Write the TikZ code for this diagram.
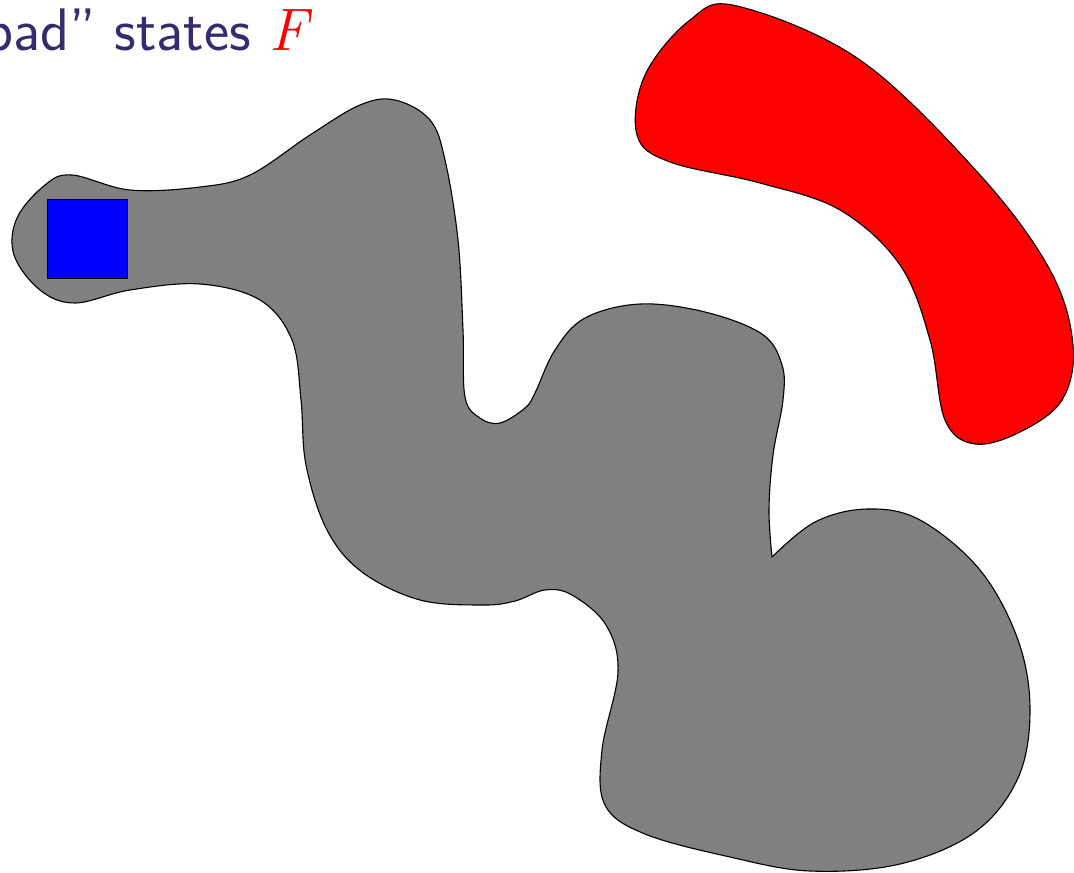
\documentclass[tikz,border=0pt]{standalone}
\usepackage{fontspec}
\definecolor{titlecol}{RGB}{53,43,110}
\begin{document}
\begin{tikzpicture}[x=1pt,y=-1pt,
  region/.style={draw=black,line width=1.1pt,line join=round},
  smoothcurve/.style={smooth,tension=0.6}]
\useasboundingbox (0,0) rectangle (1074,873);
% gray region (safe states)
\path[region,fill=gray] plot[smoothcurve] coordinates {
 (772,557) (815,522) (867,509) (920,520) (980,570) (1018,640) (1030,710)
 (1018,778) (975,832) (900,864) (810,871) (730,857) (645,834) (605,805)
 (602,750) (618,672) (606,625) (572,595) (545,590) (515,601) (483,605)
 (420,600) (362,572) (327,530) (306,465) (301,400) (292,340) (260,300)
 (200,284) (130,290) (75,303) (40,290) (14,255) (17,218) (45,185) (72,175)
 (130,190) (200,187) (250,175) (310,135) (360,105) (395,100) (430,120)
 (445,160) (458,240) (463,330) (465,397) (480,418) (500,423) (525,408)
 (535,393) (555,350) (585,318) (640,304) (705,312) (762,334) (782,365)
 (783,400) (773,455) (769,510) (772,557)} -- cycle;
% red region (bad states)
\path[region,fill=red] plot[smooth cycle,tension=0.6] coordinates {
 (737,6) (860,60) (980,175) (1050,270) (1073,345) (1062,400) (1020,432)
 (975,444) (945,420) (930,340) (900,265) (840,210) (760,183) (670,162)
 (637,135) (645,75) (690,20)};
% blue initial set
\node[draw=black,line width=1.1pt,fill=blue,minimum width=80pt,minimum height=79pt,
  inner sep=0pt,anchor=north west] (init) at (47,199) {};
% title text
\node[anchor=base east,inner sep=0pt,text=titlecol,
  font=\sffamily\fontsize{60}{70}\selectfont] (title) at (308,50)
  {“bad” states \textcolor{red}{\rmfamily\itshape F}};
\end{tikzpicture}
\end{document}
